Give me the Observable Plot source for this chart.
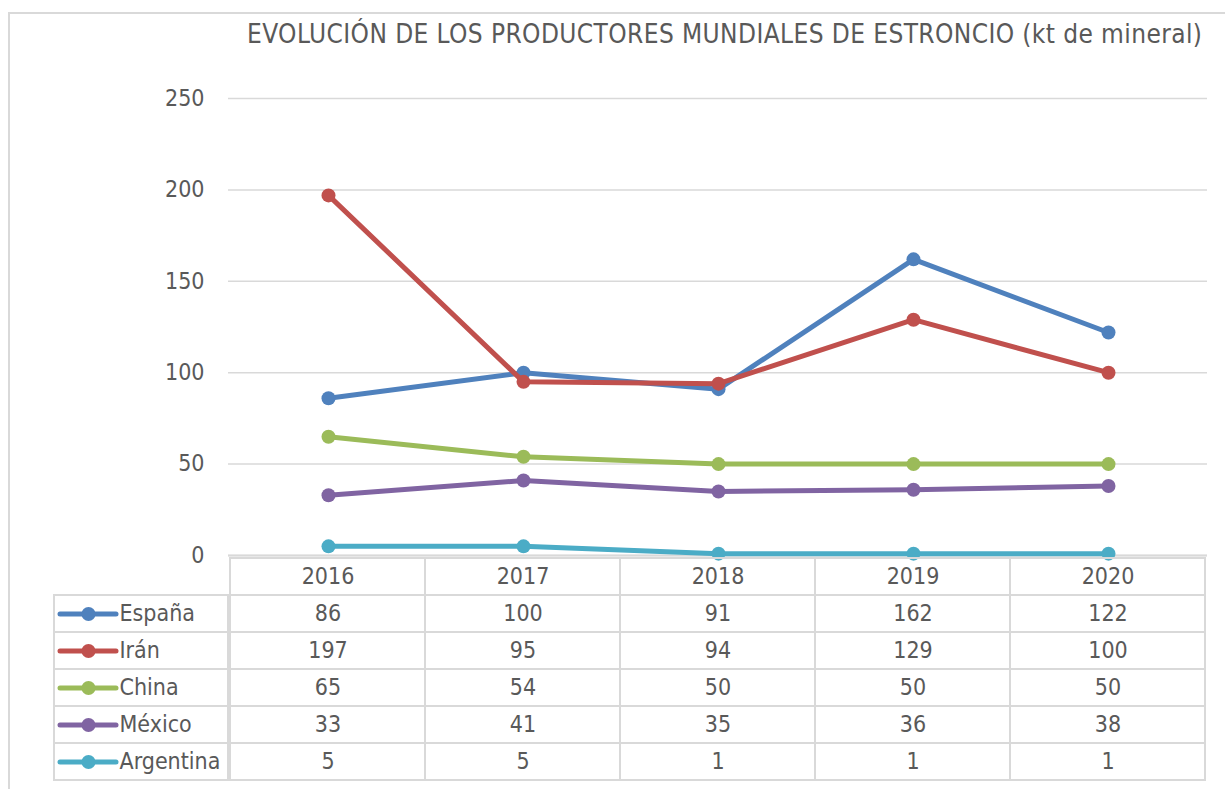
<!DOCTYPE html>
<html>
<head>
<meta charset="utf-8">
<script src="https://cdn.jsdelivr.net/npm/d3@7"></script>
<script src="https://cdn.jsdelivr.net/npm/@observablehq/plot@0.6"></script>
<style>
  html, body { margin: 0; padding: 0; background: #fff; }
  #wrap { position: relative; width: 1225px; height: 789px; overflow: hidden; background: #fff;
          font-family: "DejaVu Sans Condensed", "DejaVu Sans", sans-serif; font-stretch: condensed; }
  #frame { position: absolute; left: 8px; top: 12px; width: 1400px; height: 1000px;
           border: 2px solid #d9d9d9; box-sizing: border-box; }
  #title { position: absolute; left: 247px; top: 19px; font-size: 26px; line-height: 30px;
           letter-spacing: 0.4px; color: #595959; white-space: nowrap; }
  .layer { position: absolute; left: 0; }
  .layer svg { overflow: visible; }
</style>
</head>
<body>
<div id="wrap">
  <div id="frame"></div>
  <div id="title">EVOLUCIÓN DE LOS PRODUCTORES MUNDIALES DE ESTRONCIO (kt de mineral)</div>
  <div id="chart" class="layer" style="top:0"></div>
  <div id="table" class="layer" style="top:555px"></div>
  <div id="labels" class="layer" style="top:555px"></div>
  <div id="swatches" class="layer" style="top:555px"></div>
</div>
<script>
// ---- data ----
const years = ["2016", "2017", "2018", "2019", "2020"];
const series = ["España", "Irán", "China", "México", "Argentina"];
const espana = [86, 100, 91, 162, 122];
const iran = [197, 95, 94, 129, 100];
const china = [65, 54, 50, 50, 50];
const mexico = [33, 41, 35, 36, 38];
const argentina = [5, 5, 1, 1, 1];
const colors = ["#4F81BD", "#C0504D", "#9BBB59", "#8064A2", "#4BACC6"];
const yTicks = [0, 50, 100, 150, 200, 250];

const values = [espana, iran, china, mexico, argentina];
const rows = series.flatMap((s, i) => years.map((y, j) => ({series: s, year: y, value: values[i][j]})));

const FONT = '"DejaVu Sans Condensed", "DejaVu Sans", sans-serif';
const TXT = "#595959";
const GRID = "#d9d9d9";
const FS = 23;
const rowDomain = ["hdr", ...series];
const baseStyle = {fontFamily: FONT, fontSize: FS + "px", color: TXT, background: "transparent", fontStretch: "condensed"};

// ---- main chart ----
const chart = Plot.plot({
  width: 1225, height: 570,
  marginTop: 98, marginBottom: 15, marginLeft: 228, marginRight: 18,
  x: {type: "point", domain: years, padding: 0.5, axis: null},
  y: {domain: [0, 250], axis: null},
  color: {domain: series, range: colors},
  style: baseStyle,
  marks: [
    Plot.gridY(yTicks, {stroke: GRID, strokeOpacity: 1, strokeWidth: 1.5}),
    Plot.axisY(yTicks, {tickSize: 0, tickPadding: 24, fontSize: FS, fill: TXT, label: null}),
    Plot.ruleY([0], {stroke: GRID, strokeWidth: 2}),
    ...series.flatMap(s => [
      Plot.line(rows.filter(d => d.series === s), {x: "year", y: "value", stroke: "series", strokeWidth: 5, strokeLinecap: "round", strokeLinejoin: "round"}),
      Plot.dot(rows.filter(d => d.series === s), {x: "year", y: "value", fill: "series", r: 7})
    ])
  ]
});
document.getElementById("chart").appendChild(chart);

// ---- data table (values) ----
const headerCells = years.map(y => ({year: y, row: "hdr", text: y}));
const valueCells = rows.map(d => ({year: d.year, row: d.series, text: String(d.value)}));
const cells = [...headerCells, ...valueCells];
const table = Plot.plot({
  width: 1225, height: 234,
  marginTop: 0, marginBottom: 7, marginLeft: 228, marginRight: 18,
  x: {type: "band", domain: years, padding: 0, axis: null},
  y: {type: "band", domain: rowDomain, padding: 0, axis: null},
  style: baseStyle,
  marks: [
    Plot.cell(cells, {x: "year", y: "row", fill: "none", stroke: GRID, strokeWidth: 2}),
    Plot.text(cells, {x: "year", y: "row", text: "text", fill: TXT, fontSize: FS})
  ]
});
document.getElementById("table").appendChild(table);

// ---- row labels column ----
const labels = Plot.plot({
  width: 228, height: 234,
  marginTop: 0, marginBottom: 7, marginLeft: 54, marginRight: 0,
  x: {type: "band", domain: ["label"], padding: 0, axis: null},
  y: {type: "band", domain: rowDomain, padding: 0, axis: null},
  style: baseStyle,
  marks: [
    Plot.cell(series, {x: () => "label", y: d => d, fill: "none", stroke: GRID, strokeWidth: 2}),
    Plot.text(series, {y: d => d, text: d => d, frameAnchor: "left", dx: 65, textAnchor: "start", fill: TXT, fontSize: FS})
  ]
});
document.getElementById("labels").appendChild(labels);

// ---- legend swatches ----
const swatches = Plot.plot({
  width: 116, height: 234,
  marginTop: 0, marginBottom: 7, marginLeft: 60, marginRight: 0,
  y: {type: "band", domain: rowDomain, padding: 0, axis: null},
  color: {domain: series, range: colors},
  style: {background: "transparent"},
  marks: [
    Plot.ruleY(series, {y: d => d, stroke: d => d, strokeWidth: 5, strokeLinecap: "round"}),
    Plot.dot(series, {y: d => d, fill: d => d, r: 7})
  ]
});
document.getElementById("swatches").appendChild(swatches);
</script>
</body>
</html>
